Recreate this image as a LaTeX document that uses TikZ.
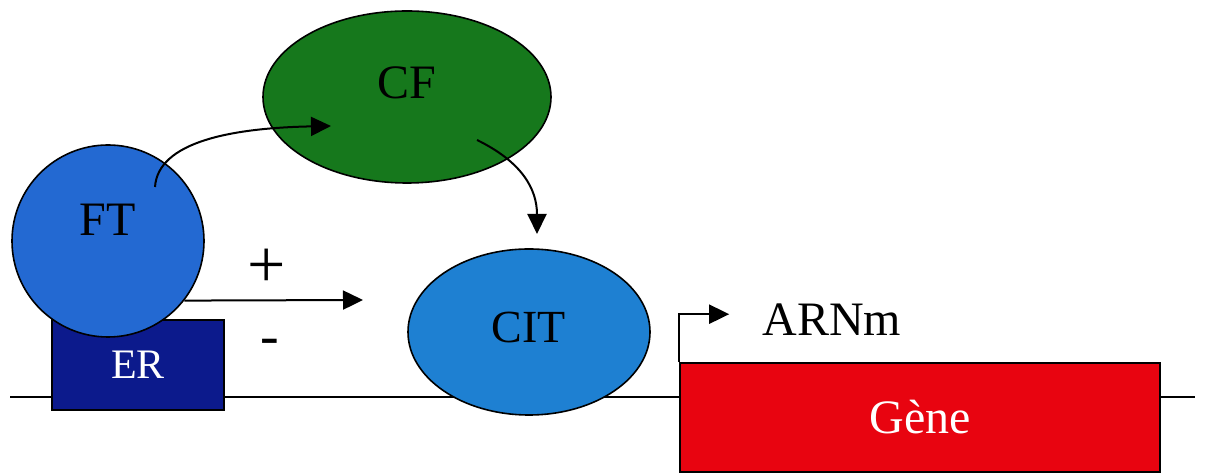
\documentclass[tikz,border=0pt]{standalone}
\usepackage{fontspec}
\setmainfont{Liberation Serif}
\usepackage{tikz}
\usetikzlibrary{shapes,arrows.meta,positioning,calc}
\definecolor{ftblue}{RGB}{35,105,210}
\definecolor{citblue}{RGB}{30,128,210}
\definecolor{cfgreen}{RGB}{22,120,28}
\definecolor{ernavy}{RGB}{12,26,140}
\definecolor{genered}{RGB}{232,4,16}
\tikzset{
    factor/.style={
        ellipse,
        draw,
        line width=0.8pt,
        inner sep=0pt,
        font=\fontsize{24}{26}\selectfont
    },
    box/.style={
        rectangle,
        draw,
        line width=0.8pt,
        inner sep=0pt,
        text=white,
        font=\fontsize{21}{23}\selectfont
    },
    arrow/.style={
        -{Triangle[length=10pt,width=9.5pt]},
        line width=1pt
    },
    sign/.style={
        font=\fontsize{34}{34}\selectfont
    }
}

\begin{document}
\begin{tikzpicture}[x=0.5pt, y=-0.5pt]
        \useasboundingbox (0,0) rectangle (1231,474);
        % DNA line
        \coordinate (dnastart) at (10,397);
        \coordinate (dnaend) at (1195,397);
        \draw[line width=1pt] (dnastart) -- (dnaend);

        % Nodes
        \node (er) [box, fill=ernavy, minimum width=86pt, minimum height=45pt] at (138,365) {ER};
        \node (ft) [factor, circle, fill=ftblue, minimum size=96pt, text depth=21pt] at (108,241) {FT};
        \node (cf) [factor, fill=cfgreen, minimum width=144pt, minimum height=86pt, text depth=14pt] at (407,97) {CF};
        \node (cit) [factor, fill=citblue, minimum width=121pt, minimum height=83pt, text depth=5pt, font=\fontsize{23}{25}\selectfont] at (529,332) {CIT};
        \node (gene) [box, fill=genered, minimum width=240pt, minimum height=54.5pt, font=\fontsize{24}{26}\selectfont] at (920,417.5) {Gène};
        \node (arnm) [font=\fontsize{24}{26}\selectfont] at (832,320) {ARNm};
        \node (plus) [sign] at (267,268) {+};
        \node (minus) [sign, font=\fontsize{28}{28}\selectfont] at (270,347) {-};
        \coordinate (plusend) at (363,300);

        % Arrows
        \draw[arrow] ([shift={(47,-54)}]ft.center) .. controls +(3,-45) and +(-100,2) .. ([shift={(-76,29)}]cf.center);
        \draw[arrow] ([shift={(70,43)}]cf.center) .. controls +(45,22) and +(0,-45) .. ([shift={(8,-98)}]cit.center);
        \draw[arrow] (ft.-38) -- (plusend);
        \draw[arrow] (gene.north west) -- ++(0,-48) -- ++(50,0);
    \end{tikzpicture}
\end{document}
